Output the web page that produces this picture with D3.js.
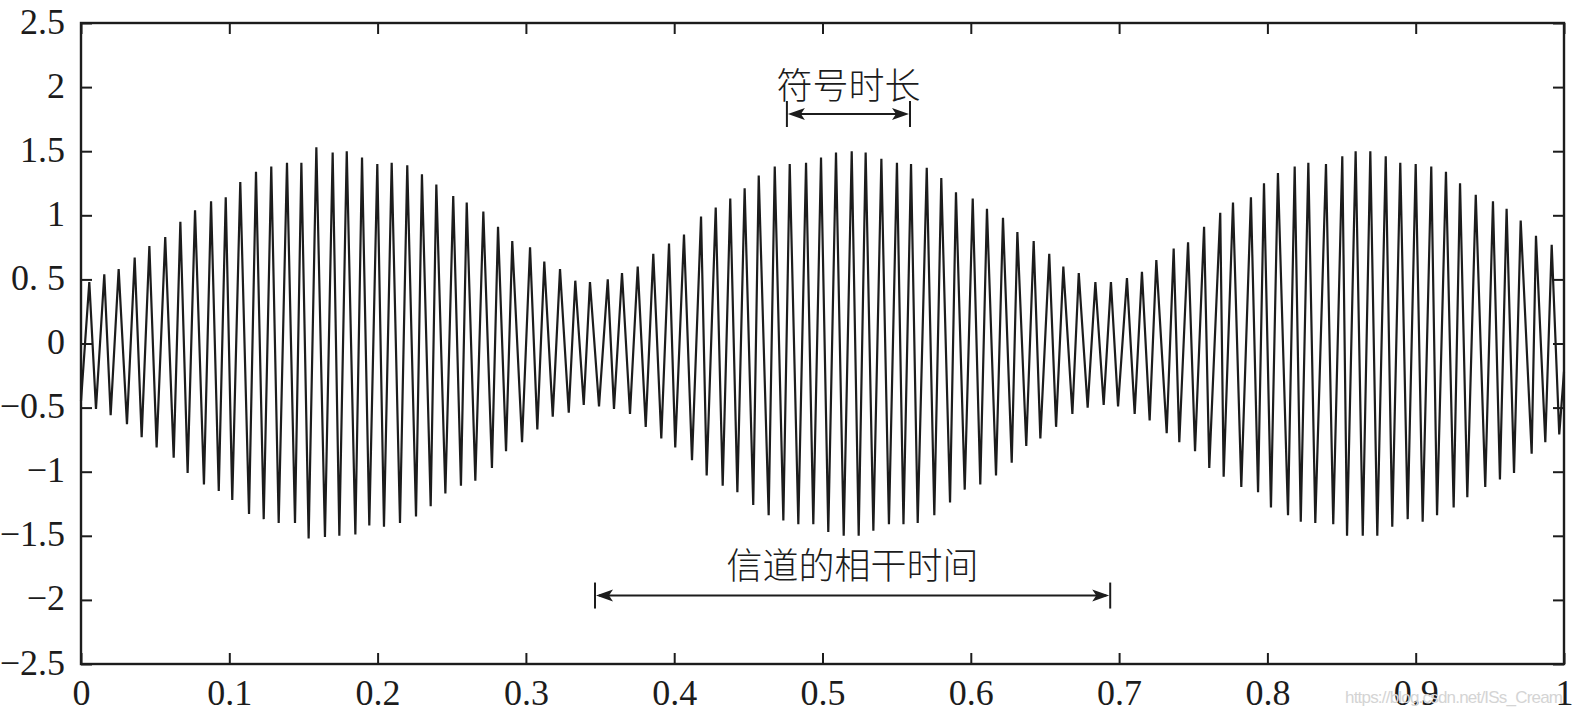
<!DOCTYPE html>
<html>
<head>
<meta charset="utf-8">
<script src="https://cdn.jsdelivr.net/npm/d3@7"></script>
<style>
  html, body { margin: 0; padding: 0; background: #fff; }
  svg { display: block; }
</style>
</head>
<body>
<svg id="chart" width="1578" height="713"></svg>
<script>
// ---------- data ----------
const timeS = [
  0.0000, 0.0056, 0.0101, 0.0157, 0.0200, 0.0254, 0.0310, 0.0362, 0.0409, 0.0461,
  0.0510, 0.0568, 0.0625, 0.0670, 0.0719, 0.0769, 0.0829, 0.0877, 0.0929, 0.0976,
  0.1020, 0.1074, 0.1133, 0.1180, 0.1232, 0.1283, 0.1333, 0.1389, 0.1443, 0.1486,
  0.1535, 0.1587, 0.1645, 0.1697, 0.1742, 0.1792, 0.1850, 0.1895, 0.1944, 0.1998,
  0.2043, 0.2095, 0.2151, 0.2200, 0.2259, 0.2299, 0.2358, 0.2396, 0.2457, 0.2510,
  0.2562, 0.2601, 0.2659, 0.2713, 0.2771, 0.2812, 0.2866, 0.2908, 0.2974, 0.3028,
  0.3077, 0.3124, 0.3181, 0.3230, 0.3289, 0.3333, 0.3390, 0.3432, 0.3493, 0.3552,
  0.3594, 0.3648, 0.3702, 0.3754, 0.3808, 0.3859, 0.3913, 0.3965, 0.4007, 0.4066,
  0.4120, 0.4181, 0.4219, 0.4280, 0.4327, 0.4378, 0.4426, 0.4475, 0.4533, 0.4570,
  0.4637, 0.4678, 0.4736, 0.4779, 0.4837, 0.4889, 0.4938, 0.4990, 0.5039, 0.5091,
  0.5143, 0.5197, 0.5244, 0.5291, 0.5343, 0.5397, 0.5448, 0.5502, 0.5546, 0.5597,
  0.5642, 0.5703, 0.5754, 0.5801, 0.5860, 0.5900, 0.5959, 0.6013, 0.6064, 0.6109,
  0.6170, 0.6217, 0.6276, 0.6314, 0.6374, 0.6424, 0.6469, 0.6529, 0.6575, 0.6624,
  0.6685, 0.6728, 0.6788, 0.6840, 0.6896, 0.6945, 0.6993, 0.7053, 0.7105, 0.7154,
  0.7206, 0.7251, 0.7321, 0.7368, 0.7406, 0.7465, 0.7512, 0.7573, 0.7608, 0.7682,
  0.7705, 0.7768, 0.7824, 0.7889, 0.7937, 0.7977, 0.8024, 0.8071, 0.8139, 0.8184,
  0.8225, 0.8276, 0.8323, 0.8395, 0.8444, 0.8505, 0.8537, 0.8595, 0.8643, 0.8694,
  0.8741, 0.8798, 0.8842, 0.8896, 0.8946, 0.9000, 0.9047, 0.9105, 0.9144, 0.9204,
  0.9256, 0.9299, 0.9348, 0.9405, 0.9469, 0.9521, 0.9568, 0.9613, 0.9663, 0.9708,
  0.9782, 0.9811, 0.9874, 0.9917, 0.9968, 1.0000
];
const signal = [
  -0.45, 0.48, -0.51, 0.54, -0.56, 0.58, -0.63, 0.67, -0.73, 0.76,
  -0.81, 0.83, -0.89, 0.95, -1.01, 1.04, -1.10, 1.11, -1.15, 1.14,
  -1.22, 1.26, -1.33, 1.34, -1.37, 1.38, -1.40, 1.41, -1.40, 1.41,
  -1.52, 1.53, -1.51, 1.49, -1.50, 1.50, -1.49, 1.45, -1.42, 1.40,
  -1.43, 1.41, -1.40, 1.39, -1.35, 1.32, -1.27, 1.24, -1.17, 1.15,
  -1.11, 1.10, -1.07, 1.03, -0.97, 0.91, -0.84, 0.80, -0.77, 0.75,
  -0.67, 0.64, -0.57, 0.58, -0.54, 0.49, -0.48, 0.48, -0.49, 0.50,
  -0.51, 0.55, -0.55, 0.60, -0.65, 0.70, -0.74, 0.78, -0.81, 0.85,
  -0.91, 0.99, -1.03, 1.06, -1.11, 1.13, -1.16, 1.21, -1.26, 1.31,
  -1.34, 1.38, -1.38, 1.40, -1.41, 1.41, -1.41, 1.45, -1.47, 1.49,
  -1.50, 1.50, -1.50, 1.49, -1.46, 1.44, -1.41, 1.41, -1.41, 1.40,
  -1.40, 1.37, -1.34, 1.29, -1.24, 1.18, -1.14, 1.13, -1.10, 1.05,
  -1.03, 0.98, -0.93, 0.87, -0.80, 0.80, -0.74, 0.70, -0.65, 0.60,
  -0.55, 0.55, -0.50, 0.48, -0.48, 0.48, -0.49, 0.51, -0.55, 0.56,
  -0.60, 0.65, -0.70, 0.74, -0.77, 0.79, -0.84, 0.91, -0.97, 1.02,
  -1.04, 1.10, -1.12, 1.14, -1.16, 1.25, -1.28, 1.33, -1.34, 1.38,
  -1.39, 1.41, -1.40, 1.40, -1.41, 1.46, -1.50, 1.50, -1.50, 1.50,
  -1.50, 1.46, -1.43, 1.41, -1.37, 1.40, -1.39, 1.38, -1.34, 1.34,
  -1.28, 1.25, -1.20, 1.16, -1.12, 1.11, -1.06, 1.05, -1.01, 0.96,
  -0.86, 0.84, -0.77, 0.77, -0.71, -0.22
];
const xTicks = [0, 0.1, 0.2, 0.3, 0.4, 0.5, 0.6, 0.7, 0.8, 0.9, 1];
const xTickLabels = ["0", "0.1", "0.2", "0.3", "0.4", "0.5", "0.6", "0.7", "0.8", "0.9", "1"];
const yTicks = [-2.5, -2, -1.5, -1, -0.5, 0, 0.5, 1, 1.5, 2, 2.5];
const yTickLabels = ["\u22122.5", "\u22122", "\u22121.5", "\u22121", "\u22120.5", "0", "0. 5", "1", "1.5", "2", "2.5"];

// annotations (data units)
const annoLabels = ["符号时长", "信道的相干时间"];
const annoStart = [0.476, 0.3466];
const annoEnd = [0.559, 0.694];
const annoLevel = [1.79, -1.966];
const annoTextLevel = [2.03, -1.715];
const watermark = "https://blog.csdn.net/ISs_Cream";

// ---------- drawing ----------
const W = 1578, H = 713;
const m = { left: 81, right: 1564, top: 23, bottom: 664 };
const svg = d3.select("#chart");
svg.append("rect").attr("width", W).attr("height", H).attr("fill", "#fff");

const x = d3.scaleLinear().domain([0, 1]).range([m.left, m.right]);
const y = d3.scaleLinear().domain([-2.5, 2.5]).range([m.bottom, m.top]);

const ink = "#1c1c1c";
const tickFont = "'Liberation Serif', 'Times New Roman', serif";
const cjkFont = "'Noto Sans CJK SC', sans-serif";

// signal line
const pts = timeS.map((t, i) => [t, signal[i]]);
svg.append("path")
  .datum(pts)
  .attr("fill", "none")
  .attr("stroke", ink)
  .attr("stroke-width", 2.2)
  .attr("d", d3.line().x(d => x(d[0])).y(d => y(d[1])));

// axes with inward ticks (box style)
const tickLen = 11;
const fmtX = (d, i) => xTickLabels[i];
const fmtY = (d, i) => yTickLabels[i];

const axB = svg.append("g").attr("transform", `translate(0,${m.bottom})`)
  .call(d3.axisBottom(x).tickValues(xTicks).tickFormat(fmtX).tickSizeInner(-tickLen).tickSizeOuter(0).tickPadding(15));
const axT = svg.append("g").attr("transform", `translate(0,${m.top})`)
  .call(d3.axisTop(x).tickValues(xTicks).tickFormat("").tickSizeInner(-tickLen).tickSizeOuter(0));
const axL = svg.append("g").attr("transform", `translate(${m.left},0)`)
  .call(d3.axisLeft(y).tickValues(yTicks).tickFormat(fmtY).tickSizeInner(-tickLen).tickSizeOuter(0).tickPadding(tickLen + 5));
const axR = svg.append("g").attr("transform", `translate(${m.right},0)`)
  .call(d3.axisRight(y).tickValues(yTicks).tickFormat("").tickSizeInner(-tickLen).tickSizeOuter(0));

[axB, axT, axL, axR].forEach(g => {
  g.selectAll(".domain").remove();
  g.selectAll(".tick line").attr("stroke", ink).attr("stroke-width", 2);
  g.selectAll("text").attr("fill", ink).style("font-family", tickFont).style("font-size", "36px");
});
axB.selectAll("text").attr("dy", "0.72em");
axL.selectAll("text").attr("dy", "0.28em");

// frame
svg.append("rect")
  .attr("x", m.left).attr("y", m.top)
  .attr("width", m.right - m.left).attr("height", m.bottom - m.top)
  .attr("fill", "none").attr("stroke", ink).attr("stroke-width", 2.4);

// annotations
const headLen = 17, headHalf = 6, barHalf = 13;
annoLabels.forEach((lab, i) => {
  const x0 = x(annoStart[i]), x1 = x(annoEnd[i]), yy = y(annoLevel[i]);
  const g = svg.append("g");
  g.append("line").attr("x1", x0 + 4).attr("x2", x1 - 4).attr("y1", yy).attr("y2", yy)
    .attr("stroke", ink).attr("stroke-width", 2);
  [x0, x1].forEach(xx => {
    g.append("line").attr("x1", xx).attr("x2", xx).attr("y1", yy - barHalf).attr("y2", yy + barHalf)
      .attr("stroke", ink).attr("stroke-width", 2);
  });
  g.append("path").attr("fill", ink)
    .attr("d", `M${x0 + 1},${yy} L${x0 + 1 + headLen},${yy - headHalf} L${x0 + 1 + headLen - 4},${yy} L${x0 + 1 + headLen},${yy + headHalf} Z`);
  g.append("path").attr("fill", ink)
    .attr("d", `M${x1 - 1},${yy} L${x1 - 1 - headLen},${yy - headHalf} L${x1 - 1 - headLen + 4},${yy} L${x1 - 1 - headLen},${yy + headHalf} Z`);
  g.append("text")
    .attr("x", (x0 + x1) / 2).attr("y", y(annoTextLevel[i]))
    .attr("text-anchor", "middle").attr("dominant-baseline", "central")
    .attr("fill", ink)
    .style("font-family", cjkFont).style("font-size", "36px").style("font-weight", 300)
    .text(lab);
});

// watermark
svg.append("text")
  .attr("x", 1345).attr("y", 703)
  .attr("fill", "#d4d4d4")
  .attr("textLength", 218)
  .style("font-family", "'Liberation Sans', Arial, sans-serif").style("font-size", "17px")
  .text(watermark);
</script>
</body>
</html>
